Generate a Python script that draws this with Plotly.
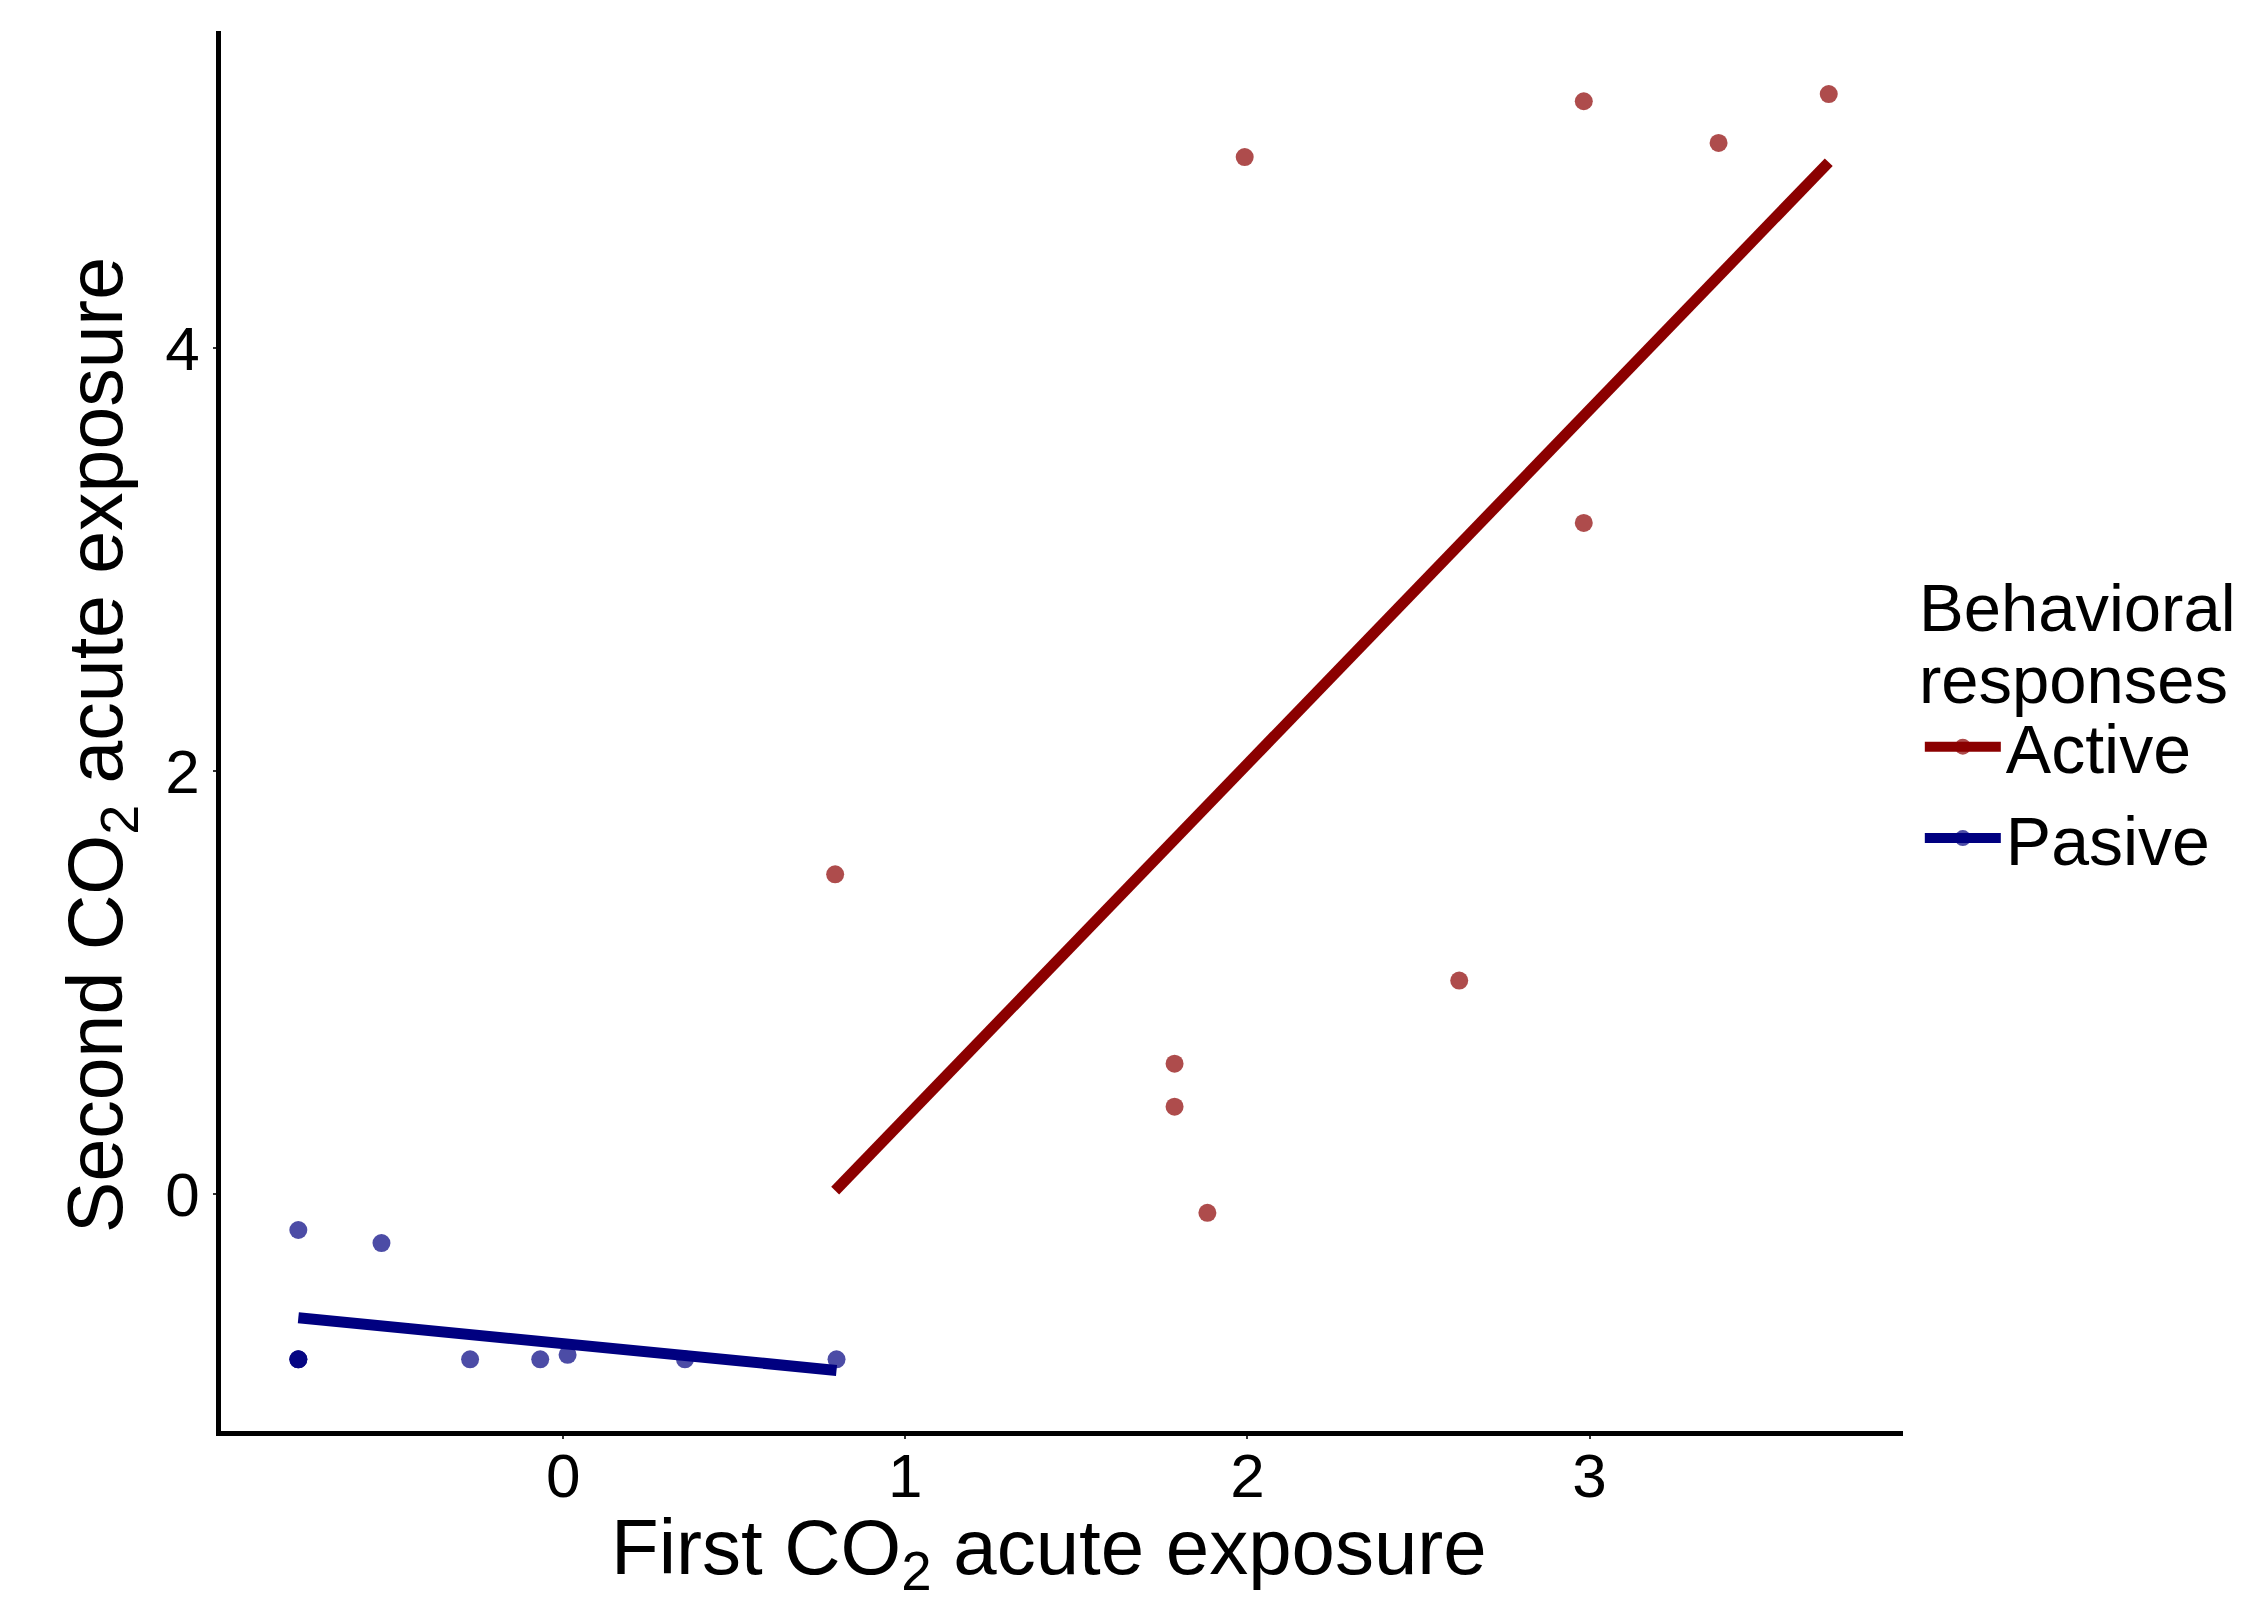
import numpy as np
import plotly.graph_objects as go

# Data
active_x = [0.795, 1.992, 2.983, 3.377, 3.699, 2.983, 2.619, 1.787, 1.787, 1.883]
active_y = [1.512, 4.902, 5.166, 4.969, 5.200, 3.173, 1.010, 0.617, 0.414, -0.088]

pasive_x = [-0.774, -0.531, -0.774, -0.774, -0.774, -0.272, -0.067, 0.013, 0.356, 0.799]
pasive_y = [-0.169, -0.231, -0.780, -0.780, -0.780, -0.780, -0.780, -0.759, -0.780, -0.780]

x_ticks = [0, 1, 2, 3]
y_ticks = [0, 2, 4]

groups = [
    ("Active", active_x, active_y, "#8B0000", "rgba(139,0,0,0.7)"),
    ("Pasive", pasive_x, pasive_y, "#000080", "rgba(0,0,128,0.7)"),
]

FONT = "Liberation Sans, Arial, sans-serif"

fig = go.Figure()
for name, xs, ys, line_col, pt_col in groups:
    fig.add_trace(go.Scatter(
        x=xs, y=ys, mode="markers",
        marker=dict(size=18, color=pt_col, line=dict(width=0)),
        showlegend=False, legendgroup=name, hoverinfo="x+y"))
for name, xs, ys, line_col, pt_col in groups:
    xs_a = np.array(xs)
    ys_a = np.array(ys)
    slope, intercept = np.polyfit(xs_a, ys_a, 1)
    fx = np.array([xs_a.min(), xs_a.max()])
    fy = slope * fx + intercept
    fig.add_trace(go.Scatter(
        x=fx, y=fy, mode="lines", name=name, legendgroup=name,
        line=dict(color=line_col, width=11),
        showlegend=False))
    # legend entry
    fig.add_trace(go.Scatter(
        x=[None], y=[None], mode="lines+markers", name=name, legendgroup=name,
        line=dict(color=line_col, width=11),
        marker=dict(size=16, color=pt_col)))

fig.update_layout(
    width=2246, height=1599,
    margin=dict(l=221, r=343, t=31, b=168),
    paper_bgcolor="white", plot_bgcolor="white",
    font=dict(family=FONT, color="black", size=62),
    legend=dict(
        x=1.010, y=0.525, xanchor="left", yanchor="top",
        font=dict(size=68),
        itemwidth=76,
        tracegroupgap=0,
    ),
    annotations=[
        dict(text="Behavioral", xref="paper", yref="paper", x=1.0085, y=0.588,
             xanchor="left", yanchor="middle", showarrow=False, font=dict(size=67)),
        dict(text="responses", xref="paper", yref="paper", x=1.0085, y=0.537,
             xanchor="left", yanchor="middle", showarrow=False, font=dict(size=67)),
        dict(text="First CO<sub>2</sub> acute exposure", xref="paper", yref="paper",
             x=0.492, y=-0.087, xanchor="center", yanchor="middle", showarrow=False,
             font=dict(size=78)),
        dict(text="Second CO<sub>2</sub> acute exposure", xref="paper", yref="paper",
             x=-0.072, y=0.49, xanchor="center", yanchor="middle", showarrow=False,
             textangle=-90, font=dict(size=77)),
    ],
    xaxis=dict(
        range=[-1.0, 3.916], tickvals=x_ticks, ticktext=[str(v) for v in x_ticks],
        showgrid=False, zeroline=False, showline=True, linecolor="black", linewidth=4.5,
        ticks="outside", ticklen=3, tickcolor="#333333", tickwidth=1.5,
        tickfont=dict(size=62), ticklabelstandoff=-16, automargin=False,
    ),
    yaxis=dict(
        range=[-1.119, 5.498], tickvals=y_ticks, ticktext=[str(v) for v in y_ticks],
        showgrid=False, zeroline=False, showline=True, linecolor="black", linewidth=4.5,
        ticks="outside", ticklen=3, tickcolor="#333333", tickwidth=1.5,
        tickfont=dict(size=62), ticklabelstandoff=1, automargin=False,
    ),
)

fig.write_html("out.html")
